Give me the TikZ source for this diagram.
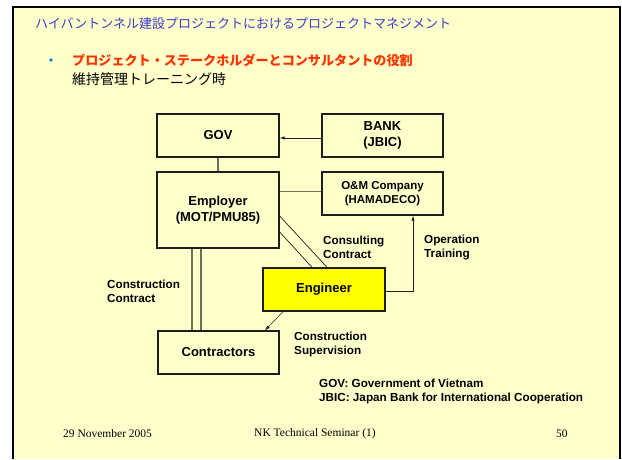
\documentclass[tikz,border=0pt]{standalone}
\usepackage{fontspec}
\setmainfont{Liberation Serif}
\newfontfamily\arial{Liberation Sans}
\newfontfamily\jp{Noto Sans CJK JP}
\usetikzlibrary{arrows.meta,calc}
\definecolor{bg}{RGB}{255,255,204}
\definecolor{titleblue}{RGB}{60,60,200}
\definecolor{redtxt}{RGB}{255,51,0}
\definecolor{bulletblue}{RGB}{0,136,204}
\definecolor{boxline}{RGB}{30,30,30}
\definecolor{conn}{RGB}{110,110,95}
\definecolor{engfill}{RGB}{255,255,0}
\begin{document}
\begin{tikzpicture}[x=1pt,y=-1pt,
  box/.style={draw=boxline, line width=1.4pt, inner sep=0pt, align=center,
    font=\arial\bfseries\fontsize{13}{16.5}\selectfont},
  smallbox/.style={box, font=\arial\bfseries\fontsize{11.5}{13.4}\selectfont},
  lbl/.style={anchor=west, align=left, inner sep=0pt,
    font=\arial\bfseries\fontsize{11.7}{14}\selectfont},
  foot/.style={anchor=west, inner sep=0pt, font=\fontsize{11.5}{13}\selectfont},
  tip/.style={-{Latex[length=5pt,width=3.5pt]}},
  thinline/.style={draw=boxline, line width=0.7pt},
  grayline/.style={draw=conn, line width=1.3pt},
]
\useasboundingbox (0,0) rectangle (622,459);
\fill[white] (0,0) rectangle (622,459);
\fill[bg] (13,7) rectangle (620,459);
\draw[line width=2.8pt, black] (13,459) -- (13,7) -- (620,7) -- (620,459);

% header texts
\node[anchor=west, inner sep=0pt, text=titleblue, font=\jp\fontsize{13}{14}\selectfont] (title) at (35,24) {ハイバントンネル建設プロジェクトにおけるプロジェクトマネジメント};
\fill[bulletblue] (51,60) circle (1.8);
\node[anchor=west, inner sep=0pt, text=redtxt, font=\jp\bfseries\fontsize{13.1}{15}\selectfont] (sub) at (72,60) {プロジェクト・ステークホルダーとコンサルタントの役割};
\node[anchor=west, inner sep=0pt, text=black, font=\jp\fontsize{14}{15}\selectfont] (sub2) at (72,79) {維持管理トレーニング時};

% boxes
\node[box, minimum width=122pt, minimum height=43pt] (gov) at (218,135.5) {GOV};
\node[box, minimum width=121pt, minimum height=43pt] (bank) at (382.5,135.5) {BANK\\(JBIC)};
\node[box, minimum width=122pt, minimum height=76pt] (emp) at (218,210) {Employer\\(MOT/PMU85)};
\node[smallbox, minimum width=121pt, minimum height=43pt] (om) at (382.5,193.5) {O\&M Company\\(HAMADECO)};
\node[box, fill=engfill, minimum width=122pt, minimum height=43pt] (eng) at (324,289.5) {Engineer};
\node[box, minimum width=121pt, minimum height=43pt] (con) at (218.5,352.5) {Contractors};

% connectors
\draw[thinline, tip] ([yshift=-2.5pt]bank.west) -- ([yshift=-2.5pt]bank.west -| gov.east);
\draw[grayline, line width=2pt] (gov.south) -- (emp.north);
\draw[grayline, line width=1pt] ([yshift=2.5pt]om.west -| emp.east) -- ([yshift=2.5pt]om.west);
\draw[thinline] ([yshift=-6pt]emp.east) -- ([xshift=3pt]eng.north);
\draw[thinline] ([yshift=-22pt]emp.east) -- ([xshift=-12pt]eng.north);
\draw[grayline] ([xshift=-26pt]emp.south) -- ([xshift=-26pt]emp.south |- con.north);
\draw[grayline] ([xshift=-17pt]emp.south) -- ([xshift=-17pt]emp.south |- con.north);
\coordinate (otc) at ([xshift=30.5pt]om.south |- eng.east);
\draw[thinline, tip] ([yshift=-1.5pt]eng.east) -- ([yshift=-1.5pt]otc) -- ([xshift=30.5pt]om.south);
\draw[thinline, line width=0.5pt, tip] ([xshift=-41pt]eng.south) -- ([xshift=46.5pt]con.north);

% labels
\node[lbl] (lcc) at (323,247) {Consulting\\Contract};
\node[lbl] (lot) at (424,247) {Operation\\Training};
\node[lbl] (lcon) at (107,291) {Construction\\Contract};
\node[lbl] (lcs) at (294,344) {Construction\\Supervision};
\node[lbl] (leg) at (319,391.5) {GOV: Government of Vietnam\\JBIC: Japan Bank for International Cooperation};

% footer
\node[foot] (f1) at (63,434) {29 November 2005};
\node[foot] (f2) at (254,434) {NK Technical Seminar (1)};
\node[foot] (f3) at (556,434) {50};
\end{tikzpicture}
\end{document}
